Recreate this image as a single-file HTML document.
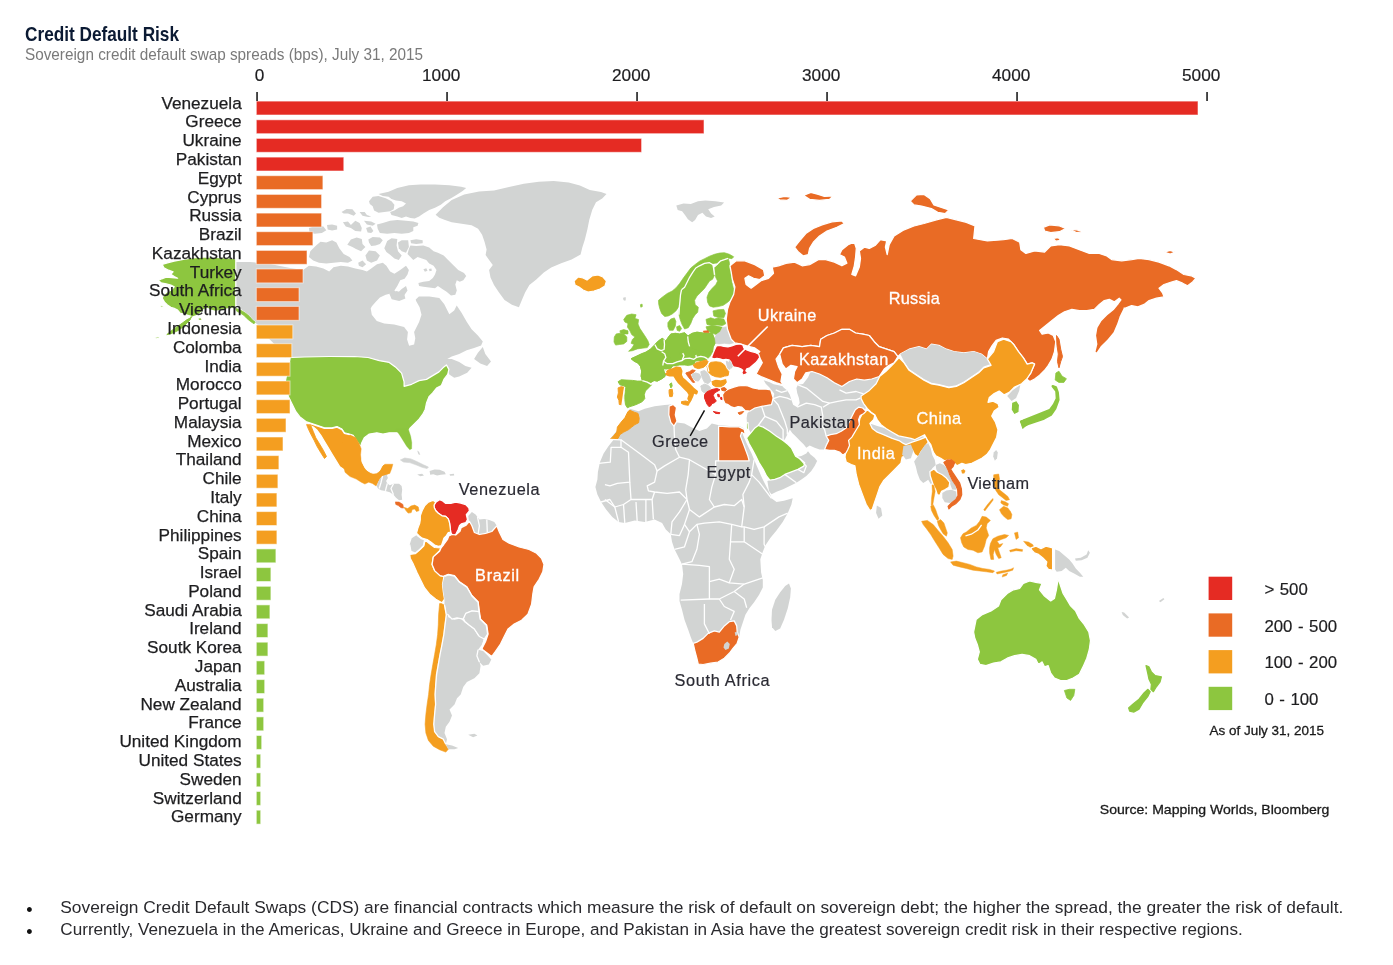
<!DOCTYPE html>
<html lang="en"><head><meta charset="utf-8"><title>Credit Default Risk</title>
<style>
html,body{margin:0;padding:0;background:#fff;}
body{width:1393px;height:965px;overflow:hidden;font-family:"Liberation Sans",sans-serif;}
svg{display:block;}
text{font-family:"Liberation Sans",sans-serif;}
.lbl{font-size:17.2px;fill:#1d1d1f;text-anchor:end;stroke:#1d1d1f;stroke-width:0.25px;}
.ax{font-size:17.2px;fill:#1d1d1f;text-anchor:middle;stroke:#1d1d1f;stroke-width:0.2px;}
.lg{font-size:16.8px;fill:#1d1d1f;word-spacing:0.9px;stroke:#1d1d1f;stroke-width:0.2px;}
.ml{font-size:16.3px;fill:#2a2a33;stroke:#2a2a33;stroke-width:0.2px;}
.mlw{font-size:16.3px;fill:#fff;stroke:#fff;stroke-width:0.3px;}
</style></head><body>
<svg width="1393" height="965" viewBox="0 0 1393 965">
<rect width="1393" height="965" fill="#fff"/>

<g id="map" stroke="#fff" stroke-width="1.25" stroke-linejoin="round">
<path d="M236.0,262.0 250.0,262.0 270.0,264.0 290.0,268.0 303.1,270.1 308.9,265.7 316.1,266.4 323.4,268.6 329.2,271.5 333.5,267.2 340.8,265.7 348.0,266.4 355.3,268.6 362.5,270.1 366.9,271.5 371.2,268.6 377.0,264.3 382.8,262.8 386.4,265.7 390.1,271.5 394.4,273.7 400.2,270.1 406.0,265.7 408.9,270.1 407.5,274.4 404.6,278.8 400.2,280.2 397.3,286.0 394.4,290.4 397.3,293.3 401.7,288.9 406.0,286.0 407.5,290.4 404.6,294.7 401.7,297.6 398.8,296.2 391.5,293.3 385.7,294.7 379.9,297.6 375.6,302.0 371.9,306.3 369.8,310.0 370.5,307.2 371.8,314.7 376.8,320.9 384.2,323.4 394.2,324.6 404.1,327.1 407.9,332.1 407.1,339.6 409.1,345.8 414.1,344.5 415.3,338.3 414.1,332.1 416.6,327.1 419.1,322.1 421.5,314.7 419.6,307.2 416.1,301.0 415.7,299.4 418.9,296.4 429.4,296.4 439.3,298.1 444.3,304.3 446.8,309.3 449.3,314.3 454.2,310.5 456.7,305.6 461.7,313.0 466.7,321.7 471.6,329.2 477.9,335.4 482.8,341.6 481.1,345.4 474.1,347.9 466.7,350.3 459.2,354.1 451.7,356.6 447.3,359.1 451.7,359.1 459.2,362.0 465.4,366.0 471.6,367.8 467.2,372.7 459.2,376.5 454.2,377.7 449.3,374.5 446.4,364.9 443.9,366.9 439.0,371.9 432.7,375.6 426.5,379.4 419.1,380.6 411.6,384.3 404.1,386.3 404.1,381.8 401.6,373.1 395.4,366.9 389.2,362.4 379.3,360.7 368.1,357.5 354.4,356.5 329.5,356.5 304.6,357.0 290.2,357.5 287.2,355.7 279.8,349.5 272.3,342.0 264.8,334.6 257.4,324.6 244.9,312.2 236.0,304.7Z" fill="#D2D4D3" stroke="none"/>
<path d="M869.9,423.5 877.3,426.0 886.0,428.5 892.2,430.9 899.7,434.2 907.2,435.9 914.6,437.7 922.1,435.9 927.1,438.4 928.3,443.4 922.1,444.6 914.6,444.6 907.2,444.6 899.7,443.4 892.2,440.9 883.5,437.2 877.3,434.2 871.1,429.7Z" fill="#D2D4D3" stroke="none"/>
<path d="M747.5,413.0 750.0,411.0 754.9,408.0 761.6,406.4 771.5,404.7 772.8,398.9 775.7,389.8 779.0,385.7 783.1,387.3 787.3,390.6 789.8,394.8 791.4,399.8 793.1,404.7 797.2,407.2 799.7,403.1 798.9,398.1 797.2,393.1 796.4,388.1 798.0,384.8 803.0,384.0 808.0,377.4 811.3,369.9 816.3,368.2 822.9,371.6 829.6,376.5 834.5,380.7 839.5,381.5 842.8,379.0 849.5,379.0 856.1,377.4 862.7,379.0 869.4,376.5 874.3,374.9 885.9,376.5 882.6,387.3 877.6,390.6 872.7,393.9 870.2,398.1 867.7,403.1 866.0,407.2 863.5,413.8 860.2,415.5 858.6,419.7 859.4,424.6 856.9,428.8 854.4,432.9 846.1,427.9 841.2,431.3 836.2,433.7 830.4,434.6 826.2,436.2 828.7,440.4 826.2,445.4 824.6,449.5 819.6,449.5 814.6,447.8 809.7,445.4 806.3,447.8 803.8,444.5 799.7,440.4 795.6,436.2 792.2,432.9 789.8,429.6 787.3,434.6 784.8,439.6 783.1,440.4 776.5,436.2 769.9,431.3 763.2,427.1 758.2,425.5 754.9,427.9 750.8,432.9 748.3,427.9 747.0,423.0 746.6,418.0Z" fill="#D2D4D3" stroke="none"/>
<path d="M629.8,408.7 638.5,411.2 644.7,408.7 654.6,406.2 664.6,405.0 670.8,404.5 675.8,407.5 674.5,414.9 677.0,422.4 684.5,423.6 691.9,427.4 699.4,431.1 706.9,428.6 711.8,423.6 718.1,424.9 729.3,426.1 739.2,426.1 744.2,428.6 742.9,434.8 746.7,443.5 751.6,453.5 754.1,459.7 757.9,468.4 761.6,477.1 765.3,484.6 769.1,492.0 771.5,498.3 776.5,502.0 784.0,500.7 792.7,498.3 791.4,504.5 787.7,513.2 782.7,521.9 776.5,530.6 770.3,538.1 765.3,545.5 762.8,551.7 760.3,559.2 761.1,572.4 762.8,579.9 762.8,587.4 759.1,594.8 754.1,602.3 749.2,608.5 745.4,614.7 742.9,622.2 740.4,629.7 739.2,637.1 737.2,643.3 733.0,648.3 729.3,653.3 724.3,658.3 718.1,662.0 710.6,663.2 703.1,664.5 698.2,664.0 696.9,658.3 694.9,650.8 693.2,643.3 690.7,637.1 688.2,629.7 684.5,619.7 682.0,609.8 679.5,601.0 679.5,594.0 682.0,584.1 683.2,574.1 682.0,564.2 678.3,556.7 674.5,549.3 672.0,541.8 670.8,534.3 665.8,529.4 662.1,523.1 654.6,519.4 644.7,521.9 634.7,520.6 624.8,523.1 618.6,521.9 612.3,516.9 606.1,509.5 601.1,502.0 597.4,494.5 595.4,487.1 597.4,479.6 597.9,472.1 599.9,462.2 603.6,453.5 608.6,446.0 613.6,439.8 609.9,439.3 617.3,429.9 622.3,422.4 627.3,414.9Z" fill="#D2D4D3" stroke="none"/>
<path d="M435.6,214.8 443.0,207.3 451.7,199.9 464.2,194.4 479.1,191.4 494.0,190.4 509.0,186.9 523.9,183.7 538.8,181.7 553.7,180.9 568.7,182.4 579.9,185.4 589.8,189.9 601.0,191.9 606.5,193.9 602.2,198.6 596.0,202.3 592.3,209.8 589.3,219.8 587.3,229.7 584.8,239.7 582.3,247.6 580.6,254.6 571.6,259.6 561.2,263.3 551.2,267.5 543.8,272.5 536.3,279.5 529.4,284.9 525.1,292.4 521.9,299.9 518.9,307.3 511.9,304.8 504.5,299.9 499.0,292.4 494.0,284.9 490.5,277.5 489.1,270.0 492.8,265.0 489.1,260.0 485.6,255.1 486.6,249.6 484.6,242.1 482.1,234.7 478.1,228.7 471.6,225.2 461.7,223.7 451.7,222.2 444.3,219.8 439.3,217.8Z" fill="#D2D4D3" stroke="none"/>
<path d="M574.0,281.0 578.0,277.0 583.0,278.0 587.0,280.0 592.0,276.0 598.0,275.0 603.0,277.0 606.5,281.0 605.0,286.0 600.0,289.0 594.0,291.0 588.0,292.0 583.0,290.0 579.0,287.0 575.0,285.0Z" fill="#F49E20"/>
<path d="M378.5,193.9 388.6,191.8 397.3,188.1 408.9,185.2 420.5,184.5 435.0,184.5 449.5,185.2 461.1,186.7 466.2,188.1 462.6,191.0 456.8,194.7 451.0,198.3 445.2,201.2 440.8,204.8 435.0,207.7 429.2,209.9 423.4,213.5 419.1,216.4 414.7,218.6 410.4,217.9 406.0,216.4 401.7,217.9 397.3,216.4 391.5,215.0 390.1,212.1 394.4,210.6 398.8,207.7 403.1,206.3 406.0,203.4 401.7,201.2 395.9,200.5 391.5,199.0 388.6,196.8 382.8,196.1Z" fill="#D2D4D3" stroke="none"/>
<path d="M369.0,201.2 372.7,196.8 378.5,196.1 385.7,198.3 391.5,201.2 394.4,204.8 393.7,209.2 390.1,211.3 384.3,212.1 378.5,212.8 374.1,210.6 372.7,206.3 369.8,204.1Z" fill="#D2D4D3" stroke="none"/>
<path d="M377.0,224.4 382.8,222.9 390.1,220.8 397.3,220.0 406.0,220.8 413.3,221.5 418.4,222.9 417.6,225.8 413.3,227.3 413.3,230.9 408.9,233.1 401.7,233.8 394.4,233.1 387.2,233.8 379.9,233.1 377.7,228.7Z" fill="#D2D4D3" stroke="none"/>
<path d="M341.5,212.1 346.6,208.9 352.4,209.2 356.0,213.5 353.8,215.7 348.0,213.5 343.7,213.5Z" fill="#D2D4D3" stroke="none"/>
<path d="M359.6,212.1 364.7,212.1 366.9,215.0 371.2,216.4 368.3,217.1 362.5,215.7Z" fill="#D2D4D3" stroke="none"/>
<path d="M342.9,222.2 348.0,221.5 350.9,225.1 355.3,220.8 359.6,222.9 361.8,228.0 361.1,231.6 355.3,230.9 350.9,228.0 345.8,226.6Z" fill="#D2D4D3" stroke="none"/>
<path d="M364.0,220.8 371.2,221.5 375.6,223.7 372.7,225.8 366.9,224.4Z" fill="#D2D4D3" stroke="none"/>
<path d="M366.1,228.0 370.5,226.6 373.4,230.9 371.2,233.1 367.6,232.4Z" fill="#D2D4D3" stroke="none"/>
<path d="M327.0,225.1 332.1,224.4 337.1,225.8 337.1,229.5 332.1,230.6 327.7,229.5Z" fill="#D2D4D3" stroke="none"/>
<path d="M308.9,228.0 316.1,225.8 323.4,226.6 326.3,230.2 321.9,233.1 314.7,233.8 309.6,232.4Z" fill="#D2D4D3" stroke="none"/>
<path d="M310.3,251.2 316.1,245.4 320.5,241.8 326.3,242.5 332.1,240.3 336.4,242.5 339.3,248.3 343.7,254.1 349.5,257.0 352.4,260.6 348.0,262.8 340.8,262.1 333.5,262.8 326.3,263.5 319.0,262.8 313.2,260.6 308.9,257.0Z" fill="#D2D4D3" stroke="none"/>
<path d="M347.3,244.7 350.9,239.6 356.7,237.4 361.8,238.9 362.5,244.0 365.4,246.9 361.1,251.2 356.0,249.0 352.4,246.9Z" fill="#D2D4D3" stroke="none"/>
<path d="M368.3,239.6 372.7,237.0 379.9,237.4 382.8,240.3 379.9,244.0 375.6,245.4 371.2,246.1 369.0,242.5Z" fill="#D2D4D3" stroke="none"/>
<path d="M365.4,255.6 369.0,250.5 375.6,251.2 379.9,255.6 377.0,260.6 371.2,262.8 366.9,260.6Z" fill="#D2D4D3" stroke="none"/>
<path d="M358.2,262.8 362.5,260.6 366.1,264.3 362.5,267.2 358.9,265.7Z" fill="#D2D4D3" stroke="none"/>
<path d="M384.3,248.3 387.2,241.1 391.5,238.2 397.3,238.9 396.6,245.4 398.0,251.2 401.7,255.6 398.8,259.9 394.4,258.5 390.1,254.8 386.4,251.9Z" fill="#D2D4D3" stroke="none"/>
<path d="M398.0,242.5 401.7,240.3 408.2,240.3 408.9,246.9 406.0,252.7 401.7,251.2 398.8,248.3Z" fill="#D2D4D3" stroke="none"/>
<path d="M410.4,240.3 416.2,239.3 422.7,240.3 422.7,243.2 416.2,244.0 411.1,243.2Z" fill="#D2D4D3" stroke="none"/>
<path d="M410.4,245.4 416.2,246.1 423.4,245.4 429.2,247.6 433.6,251.2 437.9,252.7 443.7,255.6 448.1,259.9 452.4,264.3 458.2,270.1 464.0,273.0 466.2,275.9 463.3,280.2 459.7,281.7 456.8,280.2 455.3,284.6 456.8,290.4 455.3,294.7 451.0,295.5 446.6,291.8 442.3,288.9 437.9,286.0 435.0,288.2 429.2,287.5 423.4,286.8 419.1,286.0 418.4,283.1 423.4,281.7 429.2,280.9 432.9,278.0 435.0,274.4 436.5,270.1 433.6,265.7 429.2,263.5 426.3,259.9 422.0,258.5 417.6,257.0 413.3,259.9 410.4,257.0 407.5,254.1 408.9,249.0Z" fill="#D2D4D3" stroke="none"/>
<path d="M423.4,269.3 426.3,268.3 427.5,270.8 424.9,271.8Z" fill="#D2D4D3" stroke="none"/>
<path d="M428.9,268.9 431.4,268.6 431.8,270.8 429.5,271.2Z" fill="#D2D4D3" stroke="none"/>
<path d="M474.1,359.1 477.9,352.8 482.8,347.1 485.3,354.1 491.0,361.5 487.1,366.0 480.3,363.5Z" fill="#D2D4D3" stroke="none"/>
<path d="M271.0,345.8 276.0,348.3 282.2,353.2 286.0,357.5 281.0,356.5 274.8,352.0Z" fill="#D2D4D3" stroke="none"/>
<path d="M389.2,293.5 396.7,291.0 404.1,293.5 405.4,298.5 399.2,301.0 391.7,299.3Z" fill="#D2D4D3" stroke="none"/>
<path d="M290.2,357.5 304.6,357.0 329.5,356.5 354.4,356.5 368.1,357.5 379.3,360.7 389.2,362.4 395.4,366.9 401.6,373.1 404.1,381.8 404.1,386.3 411.6,384.3 419.1,380.6 426.5,379.4 432.7,375.6 439.0,371.9 443.9,366.9 446.4,364.9 448.9,369.4 447.7,374.4 443.9,379.4 441.4,385.6 436.5,388.1 432.7,393.0 429.0,396.8 426.5,403.0 425.3,409.2 422.8,414.2 419.1,419.2 414.1,424.1 410.3,427.9 407.9,431.6 409.1,436.6 411.1,442.8 411.8,449.0 409.6,450.2 406.6,445.3 404.1,439.1 401.6,434.1 396.7,432.8 389.2,432.8 383.0,434.1 376.8,432.8 369.3,434.1 364.3,437.8 361.8,442.8 360.6,446.5 356.9,441.5 353.1,435.3 349.4,434.1 344.4,432.8 341.9,429.1 337.0,426.6 332.0,427.9 324.5,427.9 317.1,425.4 309.6,422.9 305.9,421.6 299.7,416.7 295.9,411.7 292.2,404.2 288.5,396.8 286.0,389.3 285.2,381.8 286.7,374.4 288.5,366.9 289.7,360.7Z" fill="#8DC63F"/>
<path d="M235.8,258.8 228.9,258.0 219.8,257.7 210.7,257.1 201.6,257.1 192.5,258.0 183.3,259.4 174.2,261.1 167.4,262.8 162.2,264.5 163.9,267.9 168.5,270.2 173.1,271.9 170.8,274.2 174.2,276.5 177.6,278.2 171.9,277.6 166.2,277.1 161.7,278.8 158.2,280.5 161.1,282.8 166.2,283.9 170.8,285.0 174.2,286.8 170.8,290.2 166.2,292.5 163.4,295.3 162.2,298.2 164.5,302.1 167.4,305.0 170.8,307.3 174.2,308.4 177.6,310.1 179.9,313.0 183.3,314.1 187.9,315.3 191.3,316.4 190.2,319.8 186.8,323.2 183.3,326.7 178.8,330.1 174.2,332.4 169.6,334.1 166.8,334.6 170.8,331.2 176.5,327.2 182.2,323.2 186.8,319.8 191.3,317.5 195.9,315.8 199.3,314.1 202.1,311.8 203.9,309.6 207.3,308.4 210.7,310.1 215.3,311.3 219.8,310.7 224.4,309.6 230.1,308.4 235.8,308.4 239.2,309.6 242.6,311.3 246.0,313.5 249.5,316.4 252.3,319.8 255.2,322.1 254.0,323.8 250.6,321.5 247.2,318.7 243.8,315.3 240.3,313.0 236.9,311.3 235.8,310.7Z" fill="#8DC63F"/>
<path d="M197.0,318.7 200.4,317.5 202.7,319.2 199.9,321.0Z" fill="#8DC63F"/>
<path d="M191.3,316.4 190.2,319.8 186.8,323.2 183.3,326.7 178.8,330.1 174.2,332.4 169.6,334.1 166.8,334.6 170.8,331.2 176.5,327.2 182.2,323.2 186.8,319.8 191.3,317.5Z" fill="#8DC63F" stroke="#8DC63F" stroke-width="1.0"/>
<path d="M235.8,308.4 239.2,309.6 242.6,311.3 246.0,313.5 249.5,316.4 252.3,319.8 255.2,322.1 254.0,323.8 250.6,321.5 247.2,318.7 243.8,315.3 240.3,313.0 236.9,311.3Z" fill="#8DC63F" stroke="#8DC63F" stroke-width="0.8"/>
<path d="M160.0,306.1 162.8,305.6 163.4,307.3 160.5,307.8Z" fill="#8DC63F"/>
<path d="M154.8,337.5 159.4,336.4 160.0,337.8 155.4,339.0Z" fill="#8DC63F"/>
<path d="M305.9,424.1 309.6,423.4 317.1,425.9 324.5,428.4 332.0,428.4 337.0,427.1 341.9,429.6 344.4,433.3 349.4,434.6 353.1,435.8 356.9,442.0 360.6,447.0 360.6,454.0 361.8,461.4 365.6,468.9 370.5,472.6 376.8,473.9 380.5,468.9 383.0,464.4 392.9,463.9 391.7,468.9 389.2,473.9 385.5,476.4 381.7,477.6 379.3,481.3 375.5,485.1 371.8,482.6 365.6,480.1 359.4,477.6 351.9,473.9 344.4,470.1 339.5,466.4 335.7,460.2 332.0,454.0 328.3,447.8 324.5,441.5 320.8,435.3 317.1,430.3 313.3,427.1Z" fill="#F49E20"/>
<path d="M306.6,424.6 310.8,425.4 313.3,431.6 315.8,437.8 319.6,444.0 323.3,450.2 326.5,456.5 324.5,458.5 320.8,452.7 317.1,446.5 314.1,440.3 310.8,434.1 308.4,429.1Z" fill="#F49E20" stroke="#F49E20" stroke-width="0.9"/>
<path d="M350.0,435.0 355.6,437.5 359.3,443.7 361.2,448.7 360.6,454.9 361.2,462.3 363.7,467.3 367.4,471.7 372.4,474.2 376.7,473.5 380.5,471.0 382.3,466.7 384.8,464.2 392.9,464.2 391.7,468.6 389.8,473.5 386.1,474.2 382.3,475.4 379.2,477.9 378.0,482.2 376.1,486.0 372.4,483.5 368.7,482.2 364.9,484.1 361.2,482.2 356.2,479.1 350.0,476.6 345.0,472.3 342.5,461.1 342.5,442.4Z" fill="#F49E20" stroke="#F49E20" stroke-width="0.4"/>
<path d="M378.0,482.2 379.9,478.5 383.0,475.8 386.7,474.5 387.9,477.9 386.1,481.0 387.3,483.5 389.8,485.3 393.5,483.7 399.1,483.7 401.6,486.0 402.2,489.7 401.6,494.7 402.2,499.7 399.1,500.3 396.0,497.8 393.5,494.7 389.8,492.2 385.4,490.9 381.1,490.3 378.0,488.5 376.7,486.2Z" fill="#D2D4D3" stroke="none"/>
<path d="M395.4,501.9 399.1,502.1 402.9,504.4 403.5,508.1 401.0,507.7 398.3,505.6 395.8,504.4Z" fill="#E96B25" stroke="#E96B25" stroke-width="0.6"/>
<path d="M404.1,507.4 407.8,508.6 410.9,506.1 414.7,505.1 418.2,506.9 419.0,510.6 416.5,511.5 414.7,508.9 412.2,509.4 411.2,512.6 408.2,513.1 406.0,510.6Z" fill="#F49E20" stroke="#F49E20" stroke-width="0.6"/>
<path d="M400.4,459.9 404.7,458.0 410.9,458.9 417.2,461.7 423.4,464.8 428.4,467.1 427.1,468.6 422.1,467.3 415.9,464.8 409.7,462.6 403.5,462.1Z" fill="#D2D4D3" stroke="#D2D4D3" stroke-width="0.6"/>
<path d="M396.0,429.4 408.5,429.4 410.7,436.2 411.8,442.4 411.7,448.7 409.7,449.7 406.6,446.2 403.5,441.2 400.4,436.2 397.9,432.5Z" fill="#8DC63F" stroke="#8DC63F" stroke-width="0.3"/>
<path d="M417.2,474.5 422.1,473.8 424.0,475.4 420.3,476.3Z" fill="#D2D4D3" stroke="none"/>
<path d="M429.6,471.0 434.6,469.6 439.6,469.8 444.5,471.7 445.8,474.2 440.8,474.8 437.1,475.4 433.3,474.2 430.2,474.8Z" fill="#D2D4D3" stroke="none"/>
<path d="M449.5,474.2 453.9,473.8 454.2,475.4 450.1,475.8Z" fill="#D2D4D3" stroke="none"/>
<path d="M417.2,450.5 419.0,451.8 420.3,454.9 418.4,454.3Z" fill="#D2D4D3" stroke="none"/>
<path d="M434.0,505.2 435.8,502.1 439.6,499.7 442.7,500.9 445.8,503.4 450.7,503.4 455.7,502.1 460.7,503.1 465.7,504.6 468.8,507.7 469.4,510.8 466.3,514.6 467.5,519.6 465.7,522.7 461.3,523.9 459.5,525.8 458.2,529.5 455.7,534.5 452.6,535.5 450.7,532.0 450.1,527.0 449.5,522.7 448.3,518.9 445.8,516.4 442.0,515.8 438.3,513.3 435.8,510.8 434.3,507.7Z" fill="#E52B23"/>
<path d="M420.3,515.8 422.1,510.8 424.6,505.9 428.4,502.1 432.7,500.3 435.8,501.9 434.0,505.2 434.3,507.7 435.8,510.8 438.3,513.3 442.0,515.8 445.8,516.4 448.3,518.9 449.5,522.7 450.1,527.0 450.7,532.0 448.3,532.6 446.4,535.7 443.9,538.2 442.7,541.9 441.4,545.7 438.3,546.3 434.6,545.0 430.8,541.9 427.1,539.5 422.1,538.2 419.0,535.7 416.5,533.2 417.8,528.3 419.7,523.3 420.3,519.6Z" fill="#F49E20"/>
<path d="M468.9,520.8 468.2,515.9 471.9,512.1 475.6,514.6 479.4,519.6 484.3,519.1 489.3,520.1 494.3,522.1 496.8,525.8 491.8,531.5 485.6,533.3 479.4,534.5 474.4,532.5 471.9,525.8 469.4,521.3Z" fill="#D2D4D3" stroke="none"/>
<path d="M411.7,538.3 416.7,535.0 420.9,538.3 424.6,540.0 423.4,545.7 419.7,549.5 415.2,553.2 410.9,551.4 409.7,544.5Z" fill="#D2D4D3" stroke="none"/>
<path d="M409.7,554.4 415.2,553.7 420.1,549.5 423.9,545.7 425.1,540.0 429.6,543.7 434.6,547.5 440.8,548.0 439.6,550.7 433.3,556.9 432.1,564.4 434.6,570.6 440.0,575.6 444.0,576.3 442.5,584.3 443.3,591.7 444.5,599.2 442.0,602.9 435.8,599.2 429.6,594.2 424.6,588.0 420.9,580.5 417.2,573.1 413.4,564.4 410.2,558.2Z" fill="#F49E20"/>
<path d="M455.7,535.0 460.0,531.3 461.2,527.6 466.2,525.1 469.4,521.3 471.9,525.8 474.4,532.5 479.4,534.5 485.6,533.3 491.8,531.5 496.8,525.8 499.3,532.0 503.0,539.5 509.2,543.2 519.2,547.0 529.1,549.5 536.6,553.2 541.5,558.2 544.0,564.4 542.8,571.8 539.1,579.3 534.1,586.8 532.8,594.2 531.6,604.2 527.9,614.1 521.6,620.3 514.2,624.1 508.0,629.1 504.2,636.5 500.5,644.0 495.5,651.4 491.8,656.4 486.8,652.7 481.8,649.0 485.6,641.5 488.1,634.0 486.8,625.3 480.6,619.1 479.4,611.6 478.1,601.7 471.9,595.5 466.9,586.8 459.5,581.8 454.5,575.6 448.3,574.3 443.3,576.3 440.0,575.6 434.6,570.6 432.1,564.4 433.3,556.9 439.6,551.2 441.3,547.5 443.8,544.5 447.5,539.5 448.8,535.8 452.0,534.5Z" fill="#E96B25"/>
<path d="M444.5,576.3 448.3,574.8 454.5,576.1 459.5,582.3 466.9,587.3 471.9,596.0 478.1,602.2 478.9,611.1 471.9,610.4 465.7,612.9 463.2,619.1 457.0,617.9 452.0,619.1 447.5,614.1 444.5,604.2 444.5,599.2 443.3,591.7 442.5,584.3Z" fill="#D2D4D3" stroke="none"/>
<path d="M465.7,613.4 471.9,610.9 478.9,611.6 480.1,619.1 486.3,625.3 487.6,634.0 484.3,639.0 479.4,636.5 474.4,629.1 469.4,625.3 464.9,621.6 463.7,619.1Z" fill="#D2D4D3" stroke="none"/>
<path d="M441.5,603.6 444.0,604.9 445.8,614.8 444.5,624.8 443.3,634.7 441.5,644.7 439.6,654.6 437.6,664.6 435.8,674.5 435.1,684.5 434.6,694.4 435.1,704.4 434.1,714.3 433.3,724.3 434.6,731.7 438.3,736.7 443.3,739.2 445.8,745.4 448.3,749.2 445.8,752.1 439.6,749.7 433.3,746.2 428.4,740.4 425.9,733.0 425.1,724.3 425.9,714.3 427.1,704.4 428.6,694.4 429.6,684.5 431.1,674.5 432.8,664.6 434.6,654.6 436.3,644.7 437.6,634.7 438.3,624.8 438.6,614.8 439.6,603.6Z" fill="#F49E20" stroke="#F49E20" stroke-width="0.6"/>
<path d="M445.8,604.9 448.3,617.3 454.5,619.8 460.7,618.6 464.4,622.3 469.4,626.0 474.4,629.8 478.1,636.0 484.3,638.5 481.8,644.7 478.1,649.7 476.9,655.9 479.4,662.1 480.6,665.8 479.4,673.3 474.4,678.3 466.9,682.0 463.2,687.0 460.7,694.4 457.0,698.2 454.5,704.4 449.5,709.4 452.0,715.6 449.5,721.8 445.8,726.8 444.5,733.0 447.0,739.2 445.8,744.2 443.3,739.2 438.3,736.7 434.6,731.7 433.8,724.3 434.6,714.3 435.6,704.4 435.1,694.4 435.8,684.5 436.6,674.5 438.3,664.6 440.0,654.6 442.0,644.7 443.8,634.7 445.0,624.8 446.3,614.8Z" fill="#D2D4D3" stroke="none"/>
<path d="M445.8,744.2 452.0,745.4 458.2,747.9 454.5,749.2 448.3,749.2Z" fill="#D2D4D3" stroke="none"/>
<path d="M468.2,734.7 474.4,733.7 477.4,735.5 473.1,737.2Z" fill="#D2D4D3" stroke="none"/>
<path d="M478.1,649.7 483.1,650.9 488.1,655.9 491.3,659.6 488.8,664.6 483.1,665.8 479.4,662.1 476.9,655.9Z" fill="#D2D4D3" stroke="none"/>
<path d="M631.1,358.7 636.1,356.3 641.1,353.8 646.0,352.0 649.8,349.5 654.8,344.5 658.5,340.8 662.2,338.3 665.9,340.8 668.4,337.0 670.9,333.9 675.3,333.3 679.6,333.9 684.6,332.7 688.1,335.8 692.1,333.3 697.0,332.1 703.3,333.1 708.9,333.3 712.0,332.7 714.5,338.9 715.1,343.3 713.2,347.0 712.6,352.0 710.1,356.3 707.6,358.8 703.3,360.7 698.9,360.7 695.2,361.3 694.8,363.8 692.7,364.7 688.3,365.6 684.6,365.1 679.6,365.1 675.9,365.9 672.8,365.9 670.9,368.4 667.2,368.9 665.0,369.4 665.9,373.1 664.7,376.8 661.0,379.3 657.2,381.2 654.1,380.6 651.0,382.4 647.3,381.8 642.3,380.6 641.1,376.2 641.7,371.2 640.4,366.3 638.0,363.2 634.2,361.3Z" fill="#8DC63F" stroke="#8DC63F" stroke-width="0.7"/>
<path d="M658.5,300.3 662.2,297.2 667.2,293.5 672.2,291.0 675.9,287.9 679.6,283.6 683.4,278.0 687.1,273.0 690.8,268.0 694.6,264.9 699.5,261.2 704.5,258.7 709.5,256.2 714.5,254.3 719.4,253.1 724.4,252.7 729.4,254.3 733.7,256.8 731.9,258.7 728.1,258.1 724.4,259.3 720.7,260.5 717.6,263.7 713.2,264.3 709.5,262.4 704.5,263.0 699.5,265.5 695.8,268.0 692.7,272.4 689.6,277.3 687.1,282.3 684.6,287.3 681.5,289.8 680.2,294.8 679.6,301.0 678.4,307.2 675.9,310.9 672.2,314.0 668.4,315.9 664.7,316.5 661.6,313.4 659.7,308.4 658.7,304.1Z" fill="#8DC63F" stroke="#8DC63F" stroke-width="0.7"/>
<path d="M681.5,289.8 684.6,287.3 687.1,282.3 689.6,277.3 692.7,272.4 695.8,268.0 699.5,265.9 704.5,263.4 709.5,262.8 713.0,264.7 713.8,269.9 714.5,274.9 712.6,279.2 709.5,281.1 707.0,284.8 704.5,288.5 700.8,292.3 697.0,296.0 694.6,300.3 695.2,304.7 698.3,307.2 697.7,312.2 695.2,314.7 692.7,318.4 690.8,323.4 688.3,327.7 684.6,329.0 682.1,324.6 680.2,319.6 679.0,314.7 679.6,307.2 680.2,301.0 680.6,294.8Z" fill="#8DC63F" stroke="#8DC63F" stroke-width="0.7"/>
<path d="M714.5,266.8 717.6,263.9 720.7,260.9 724.4,259.7 728.1,258.4 729.4,262.4 729.4,267.4 730.6,272.4 731.2,277.3 731.9,282.3 733.1,287.3 734.4,292.3 733.1,296.0 730.6,299.7 726.9,302.8 723.2,305.3 718.2,306.6 713.2,307.2 709.5,305.9 707.6,302.2 707.0,297.2 708.9,292.3 712.0,288.5 715.7,284.8 717.6,281.1 715.7,277.3 715.1,272.4Z" fill="#8DC63F" stroke="#8DC63F" stroke-width="0.7"/>
<path d="M713.0,310.9 718.2,309.7 723.8,309.4 725.4,313.4 723.8,317.8 718.2,317.4 713.8,316.1Z" fill="#8DC63F" stroke="#8DC63F" stroke-width="0.7"/>
<path d="M706.0,319.4 710.7,317.8 714.5,319.0 718.2,318.1 723.8,319.1 725.9,323.6 722.5,325.6 716.9,324.9 712.0,325.6 707.0,324.4Z" fill="#8DC63F" stroke="#8DC63F" stroke-width="0.7"/>
<path d="M706.0,326.8 712.0,325.6 716.9,326.1 722.2,327.3 720.7,332.3 716.9,334.8 712.0,333.1 707.6,331.1Z" fill="#8DC63F" stroke="#8DC63F" stroke-width="0.7"/>
<path d="M703.3,331.1 708.2,330.8 708.9,332.7 703.9,332.7Z" fill="#E96B25" stroke="#E96B25" stroke-width="0.7"/>
<path d="M716.3,334.6 720.0,332.1 722.5,327.7 727.5,326.5 731.2,328.3 734.4,330.8 735.6,335.2 740.0,337.7 738.7,341.4 734.4,342.6 729.4,343.9 724.4,343.3 719.4,343.9 715.1,343.3 714.5,338.9Z" fill="#D2D4D3" stroke="#D2D4D3" stroke-width="0.7"/>
<path d="M688.1,335.8 692.1,333.3 697.0,332.1 703.3,333.1 708.9,333.3 712.0,332.7 714.5,338.9 715.1,343.3 713.2,347.0 712.6,352.0 708.2,353.2 703.3,352.0 698.3,350.7 693.9,348.9 690.2,346.4 688.6,342.0Z" fill="#8DC63F" stroke="#8DC63F" stroke-width="0.7"/>
<path d="M664.1,344.5 665.9,340.8 668.4,337.0 670.9,333.9 675.3,333.3 679.6,333.9 684.6,332.7 687.7,336.4 688.3,342.0 689.6,346.4 685.8,348.9 682.1,350.7 679.6,353.2 680.9,356.9 682.1,360.7 677.1,361.3 672.2,360.7 669.7,356.9 665.9,354.5 664.5,349.5Z" fill="#8DC63F" stroke="#8DC63F" stroke-width="0.7"/>
<path d="M667.9,322.7 670.7,319.1 674.4,317.9 675.9,321.5 675.3,326.1 673.2,330.3 669.4,330.3 667.9,326.7Z" fill="#8DC63F" stroke="#8DC63F" stroke-width="0.7"/>
<path d="M676.6,326.8 679.6,325.6 681.6,328.6 679.6,331.3 677.1,330.3Z" fill="#8DC63F" stroke="#8DC63F" stroke-width="0.7"/>
<path d="M654.8,344.5 658.5,340.8 662.2,338.3 664.1,339.5 664.5,344.5 664.1,349.5 661.0,350.7 657.2,348.9 655.4,347.0Z" fill="#8DC63F" stroke="#8DC63F" stroke-width="0.7"/>
<path d="M623.7,319.6 626.8,315.3 631.7,314.0 636.1,314.7 634.9,318.4 638.6,319.6 638.0,324.0 639.8,328.3 642.3,332.1 644.8,335.8 647.9,340.8 649.2,344.5 647.3,347.6 642.3,348.2 637.3,348.9 632.4,350.7 628.6,351.3 631.7,348.2 634.2,344.5 631.1,343.3 632.4,339.5 634.9,337.0 631.7,334.6 629.9,330.8 627.4,327.1 628.0,323.4 624.9,322.1Z" fill="#8DC63F" stroke="#8DC63F" stroke-width="0.7"/>
<path d="M619.9,330.8 623.7,329.6 628.0,330.8 628.0,333.9 623.7,333.9 620.5,333.1Z" fill="#8DC63F" stroke="#8DC63F" stroke-width="0.7"/>
<path d="M614.3,337.0 616.2,333.9 619.9,333.3 623.7,333.9 626.8,337.0 626.8,341.4 623.7,343.9 619.3,344.5 615.6,345.1 614.0,342.0Z" fill="#8DC63F" stroke="#8DC63F" stroke-width="0.7"/>
<path d="M623.4,297.9 625.5,297.6 625.3,300.3 623.9,300.1Z" fill="#D2D4D3" stroke="#D2D4D3" stroke-width="0.7"/>
<path d="M640.4,304.7 642.1,304.1 642.3,306.6 640.8,307.2Z" fill="#8DC63F" stroke="#8DC63F" stroke-width="0.7"/>
<path d="M631.1,358.7 635.5,356.8 641.1,354.3 646.0,352.2 649.8,349.7 654.8,348.5 658.5,350.0 661.6,351.8 664.7,353.7 665.9,357.4 663.5,361.2 662.8,365.5 664.7,369.3 665.9,373.0 664.7,376.7 661.0,379.2 657.2,381.1 654.1,380.4 651.0,382.3 647.3,381.7 642.3,380.4 641.1,376.1 641.7,371.1 640.4,366.1 638.0,363.0 634.2,361.2Z" fill="#8DC63F" stroke="#8DC63F" stroke-width="1.0"/>
<path d="M669.7,384.2 671.5,382.9 672.2,386.0 670.9,387.9Z" fill="#8DC63F" stroke="#8DC63F" stroke-width="1.0"/>
<path d="M618.1,381.7 621.2,379.8 626.1,380.1 632.4,380.4 637.3,381.1 642.3,381.1 647.3,382.3 651.6,384.8 648.5,387.9 645.4,391.0 644.2,394.8 644.8,398.5 642.3,401.6 638.6,403.5 634.2,405.3 629.9,406.6 627.4,407.8 625.5,404.7 624.9,399.7 624.9,394.8 625.5,389.8 624.9,386.0 619.9,384.8Z" fill="#8DC63F" stroke="#8DC63F" stroke-width="1.0"/>
<path d="M618.1,387.9 621.2,386.7 624.3,387.3 623.7,391.6 623.0,396.0 622.4,400.3 621.8,404.7 619.3,404.5 618.9,400.3 617.4,397.2 618.4,392.9Z" fill="#F49E20" stroke="#F49E20" stroke-width="1.0"/>
<path d="M665.9,373.0 668.4,370.5 672.2,369.3 676.5,367.4 680.2,368.0 681.5,371.1 680.9,374.9 682.7,378.6 685.8,381.1 689.6,384.8 693.3,388.5 697.0,391.6 696.4,393.5 693.3,392.3 692.7,395.4 690.8,399.7 689.6,401.6 688.3,398.5 689.6,394.8 687.7,391.6 684.6,388.5 681.5,385.4 678.4,382.3 675.9,378.6 674.0,375.5 669.7,375.5 667.2,374.9Z" fill="#F49E20" stroke="#F49E20" stroke-width="2.0"/>
<path d="M681.5,401.6 685.8,401.0 689.6,402.2 688.3,405.3 684.6,404.7 681.5,403.5Z" fill="#F49E20" stroke="#F49E20" stroke-width="1.0"/>
<path d="M669.1,389.8 672.2,389.2 672.8,393.5 672.2,396.6 669.7,396.6 669.1,392.9Z" fill="#F49E20" stroke="#F49E20" stroke-width="1.0"/>
<path d="M665.9,365.5 669.7,364.3 672.8,365.5 670.9,368.0 667.2,368.6Z" fill="#8DC63F" stroke="#8DC63F" stroke-width="1.0"/>
<path d="M684.0,359.9 688.3,358.7 692.1,359.3 694.6,361.2 692.1,363.7 687.7,364.9 684.6,363.7Z" fill="#8DC63F" stroke="#8DC63F" stroke-width="1.0"/>
<path d="M682.7,353.1 685.8,350.6 690.8,350.0 694.6,351.8 695.8,355.0 692.1,356.2 687.1,356.8 684.0,355.6Z" fill="#8DC63F" stroke="#8DC63F" stroke-width="1.0"/>
<path d="M697.0,358.1 700.8,356.8 704.5,357.4 707.0,358.7 703.3,360.5 698.9,360.5Z" fill="#8DC63F" stroke="#8DC63F" stroke-width="1.0"/>
<path d="M693.3,364.9 697.0,362.4 702.0,361.2 706.4,359.9 708.2,361.8 706.4,364.9 703.3,367.4 698.3,368.6 694.6,367.4Z" fill="#F49E20" stroke="#F49E20" stroke-width="1.0"/>
<path d="M707.0,366.1 710.7,362.4 715.7,361.8 720.7,362.4 724.4,364.9 726.3,368.6 728.8,371.7 728.1,375.5 724.4,376.1 720.7,377.3 715.7,376.7 711.3,374.9 708.2,371.7Z" fill="#F49E20" stroke="#F49E20" stroke-width="1.0"/>
<path d="M712.0,381.1 715.7,379.8 720.7,380.4 725.6,379.2 726.3,382.3 724.4,384.8 720.7,386.7 715.7,386.7 712.6,384.8Z" fill="#F49E20" stroke="#F49E20" stroke-width="1.0"/>
<path d="M685.8,373.0 689.6,371.7 692.1,369.9 695.2,370.5 692.7,373.0 690.2,374.2 691.4,377.3 693.3,380.4 694.6,382.3 692.7,382.3 690.2,379.2 687.7,376.1Z" fill="#E96B25" stroke="#E96B25" stroke-width="1.0"/>
<path d="M692.1,374.2 695.8,373.0 699.5,374.2 700.8,377.3 698.3,381.1 695.2,380.4 692.7,377.3Z" fill="#D2D4D3" stroke="#D2D4D3" stroke-width="1.0"/>
<path d="M700.8,371.7 704.5,370.5 707.6,373.0 709.5,376.7 710.7,381.1 708.2,383.6 704.5,382.3 702.6,378.6 701.4,374.9Z" fill="#D2D4D3" stroke="#D2D4D3" stroke-width="1.0"/>
<path d="M700.8,386.0 704.5,384.2 708.2,385.4 710.7,387.9 708.2,390.4 704.5,392.9 702.0,391.0Z" fill="#D2D4D3" stroke="#D2D4D3" stroke-width="1.0"/>
<path d="M726.3,361.2 728.8,362.4 730.6,366.1 730.0,369.3 728.1,368.6 726.9,364.9Z" fill="#D2D4D3" stroke="#D2D4D3" stroke-width="1.0"/>
<path d="M704.5,394.8 706.4,392.3 709.5,390.4 713.2,389.2 716.9,388.5 720.0,389.8 716.9,391.6 714.5,392.9 713.2,395.4 714.5,398.5 716.3,401.0 714.5,402.8 712.0,403.5 710.7,405.9 708.9,406.6 707.0,404.1 705.7,401.0 704.5,397.9Z" fill="#E52B23" stroke="#E52B23" stroke-width="1.0"/>
<path d="M713.2,411.5 716.9,412.2 720.0,412.8 719.4,413.7 715.7,413.4Z" fill="#E52B23" stroke="#E52B23" stroke-width="1.0"/>
<path d="M717.6,394.1 719.2,394.5 719.4,397.0 717.9,396.6Z" fill="#E52B23" stroke="#E52B23" stroke-width="1.0"/>
<path d="M720.7,397.2 722.4,397.7 722.2,399.7 720.7,399.2Z" fill="#E52B23" stroke="#E52B23" stroke-width="1.0"/>
<path d="M610.6,438.9 613.7,435.8 616.8,432.1 617.4,427.1 621.2,422.1 624.9,417.8 628.0,411.5 629.9,410.3 634.2,412.2 638.0,413.4 639.2,418.4 638.6,422.7 634.9,424.6 631.7,427.1 628.6,429.6 623.7,432.1 619.9,434.6 618.1,438.3 615.0,439.5Z" fill="#F49E20" stroke="#F49E20" stroke-width="1.0"/>
<path d="M738.1,412.8 741.2,411.9 743.7,411.5 741.8,413.7 739.3,414.4Z" fill="#E96B25" stroke="#E96B25" stroke-width="1.0"/>
<path d="M730.0,265.8 736.2,260.8 744.9,260.8 754.8,264.6 763.5,269.6 764.8,275.8 759.8,279.5 753.6,278.3 748.6,275.8 744.9,278.3 746.1,284.5 751.1,288.2 756.1,284.5 761.0,280.7 768.5,278.3 773.5,273.3 772.2,267.1 778.5,265.8 785.9,263.3 794.6,262.1 802.1,265.8 809.6,264.6 818.3,259.6 825.7,259.6 834.4,262.1 841.9,265.8 846.9,263.3 844.4,257.1 839.4,254.6 841.9,249.7 848.1,244.7 854.3,242.2 856.3,248.4 855.6,257.1 854.3,265.8 851.8,274.5 855.6,275.8 859.3,267.1 860.5,258.4 859.3,250.9 864.3,247.2 869.3,248.4 875.5,245.2 880.4,239.7 886.7,240.9 885.4,247.2 887.2,254.6 889.2,244.7 894.1,236.0 904.1,229.8 914.0,226.0 924.0,223.5 936.4,219.8 946.4,217.3 956.3,219.8 966.3,222.3 975.0,226.0 974.2,233.5 973.7,238.5 987.4,240.9 1003.5,239.7 1012.2,238.5 1019.7,242.2 1020.9,249.7 1025.9,253.4 1034.6,250.9 1044.6,252.1 1050.8,245.9 1059.5,244.7 1069.5,245.9 1079.4,249.7 1089.4,253.4 1099.3,253.4 1106.8,255.9 1111.7,259.6 1121.7,260.8 1131.6,259.6 1139.1,258.4 1149.1,259.6 1159.0,262.1 1169.0,265.8 1176.4,269.6 1183.9,274.5 1191.3,275.8 1195.8,278.3 1192.6,282.0 1187.6,285.7 1182.6,283.2 1176.4,280.7 1171.4,282.0 1164.0,284.5 1159.0,288.2 1162.7,293.2 1164.0,296.9 1156.5,298.2 1149.1,300.6 1144.1,304.4 1137.9,306.9 1131.6,305.6 1125.4,308.1 1122.9,308.1 1119.2,315.6 1116.7,323.0 1113.0,331.7 1106.8,339.2 1100.5,345.4 1096.3,351.6 1098.1,344.2 1096.8,335.5 1098.1,328.0 1101.8,321.8 1108.0,315.6 1114.2,310.6 1119.2,304.4 1121.7,300.6 1119.2,298.2 1114.2,301.9 1109.3,299.4 1104.3,300.6 1099.3,304.4 1094.3,309.4 1086.9,310.6 1079.4,310.6 1071.9,309.4 1064.5,311.8 1058.3,315.6 1052.0,320.5 1045.8,325.5 1039.6,330.5 1042.1,334.2 1048.3,333.0 1053.3,335.5 1055.8,341.7 1054.5,351.6 1052.0,359.1 1048.3,365.3 1044.6,370.3 1039.6,375.3 1034.6,379.0 1029.7,381.5 1026.7,379.0 1030.9,372.8 1034.6,364.1 1032.1,362.8 1027.2,364.1 1023.4,357.9 1018.5,351.6 1013.5,344.2 1008.5,339.2 1002.3,338.0 996.1,340.4 992.3,345.4 988.6,351.6 987.4,359.1 981.2,354.1 973.7,351.6 963.8,352.9 953.8,351.6 946.4,349.2 938.9,345.4 931.4,344.2 926.5,349.2 919.0,346.7 909.1,349.2 900.3,354.1 897.9,356.6 894.1,351.6 886.7,349.2 879.2,346.7 874.2,341.7 869.3,335.5 863.0,334.2 855.6,333.0 849.4,329.3 841.9,329.3 834.4,333.0 827.0,335.5 820.7,339.2 819.5,346.7 810.8,345.4 802.1,346.7 792.1,345.4 783.4,347.9 779.7,354.1 776.0,359.1 778.5,366.6 782.2,374.0 780.9,381.5 783.4,385.2 776.0,382.7 767.3,379.0 761.0,376.5 756.1,374.0 758.6,369.1 762.3,362.8 759.8,357.9 757.3,354.1 759.8,351.6 754.8,347.9 747.4,346.2 741.1,344.2 734.9,342.9 731.2,339.2 727.5,329.3 726.2,319.3 727.5,309.4 730.0,301.9 733.7,294.4 734.9,287.0 732.4,279.5 731.2,272.0Z" fill="#E96B25"/>
<path d="M794.6,247.2 799.6,240.9 805.8,233.5 813.3,228.5 822.0,224.8 831.9,221.8 841.9,221.0 844.4,223.5 836.9,227.3 827.0,231.0 819.5,236.0 813.3,242.2 809.6,248.4 808.3,254.6 803.3,255.9 798.4,252.1Z" fill="#E96B25"/>
<path d="M910.3,201.1 916.5,194.9 924.0,194.4 930.2,198.7 933.9,204.9 941.4,207.4 948.9,209.9 945.1,213.6 937.7,212.3 931.4,208.6 921.5,206.1 914.0,204.9Z" fill="#E96B25"/>
<path d="M777.2,197.9 784.7,196.4 792.1,197.4 787.2,200.4 779.7,199.9Z" fill="#E96B25"/>
<path d="M803.3,195.4 810.8,192.4 818.3,194.4 824.5,196.4 833.2,195.9 829.5,199.4 819.5,200.4 809.6,199.4Z" fill="#E96B25"/>
<path d="M1043.3,227.3 1049.6,224.8 1059.5,226.0 1065.7,228.5 1059.5,231.7 1050.8,232.7 1044.6,231.0Z" fill="#E96B25"/>
<path d="M1069.5,229.3 1076.9,229.8 1083.1,231.7 1076.9,232.7Z" fill="#E96B25"/>
<path d="M1053.3,238.5 1058.3,237.7 1060.7,240.4 1055.8,241.2Z" fill="#E96B25"/>
<path d="M1164.0,252.1 1170.2,250.4 1175.2,252.1 1170.2,254.1Z" fill="#E96B25"/>
<path d="M1056.5,335.5 1059.0,339.2 1060.7,349.2 1062.5,356.6 1060.7,361.6 1059.0,367.8 1057.5,361.6 1058.3,354.1 1057.0,345.4Z" fill="#E96B25" stroke="#E96B25" stroke-width="1.0"/>
<path d="M1122.9,299.4 1119.2,304.4 1114.2,310.6 1108.0,315.6 1101.8,321.8 1098.1,328.0 1096.8,335.5 1098.1,344.2 1096.3,351.6 1100.5,345.4 1106.8,339.2 1113.0,331.7 1116.7,323.0 1119.2,315.6 1122.9,308.1Z" fill="#E96B25" stroke="#E96B25" stroke-width="1.4"/>
<path d="M779.7,354.1 783.4,347.9 792.1,345.4 802.1,346.7 810.8,345.4 819.5,346.7 820.7,339.2 827.0,335.5 834.4,333.0 841.9,329.3 849.4,329.3 855.6,333.0 863.0,334.2 869.3,335.5 874.2,341.7 879.2,346.7 886.7,349.2 894.1,351.6 897.9,356.6 894.1,362.8 889.2,365.3 884.2,369.1 879.2,376.5 871.7,379.0 864.3,380.2 856.8,379.0 849.4,381.5 841.9,386.5 834.4,382.7 827.0,377.8 819.5,374.0 812.0,371.5 805.8,372.8 802.1,379.0 797.1,382.7 793.4,379.0 794.6,371.5 797.1,366.6 790.9,365.3 785.9,369.1 782.2,364.1 780.9,359.1Z" fill="#E96B25"/>
<path d="M900.3,354.1 909.1,349.2 919.0,346.7 926.5,349.2 931.4,344.2 938.9,345.4 946.4,349.2 953.8,351.6 963.8,352.9 973.7,351.6 981.2,354.1 987.4,359.1 991.1,364.1 983.7,366.6 978.7,371.5 971.2,376.5 963.8,381.5 956.3,385.2 948.9,386.5 938.9,384.0 931.4,382.7 924.0,379.0 916.5,374.0 909.1,369.1 904.1,361.6Z" fill="#D2D4D3" stroke="none"/>
<path d="M861.1,396.1 868.6,391.1 876.1,383.7 879.8,376.2 886.0,371.2 893.5,363.8 899.0,357.6 904.1,362.8 909.1,370.3 916.5,375.3 924.0,380.2 931.4,383.9 938.9,385.2 948.9,387.7 956.3,386.4 963.8,382.7 971.2,377.7 978.7,372.7 983.7,367.8 991.1,365.3 987.4,359.1 993.6,351.6 997.4,341.6 1003.6,339.2 1011.0,341.6 1013.5,344.2 1018.5,351.6 1023.4,357.9 1027.2,364.1 1032.1,362.8 1034.6,364.1 1030.9,372.8 1026.7,379.0 1021.6,383.7 1014.1,387.4 1009.2,392.4 1004.2,394.9 999.2,391.1 994.2,393.6 989.3,397.4 988.0,402.3 993.0,401.1 998.0,403.6 999.2,407.3 994.2,411.0 991.7,416.0 995.5,422.2 998.0,429.7 996.7,437.2 993.0,444.6 990.5,449.6 986.8,454.6 981.8,458.3 976.8,460.8 971.8,463.3 965.6,464.5 961.9,463.3 956.9,465.8 954.4,463.3 949.5,459.6 944.5,460.8 940.7,458.3 935.8,455.8 933.3,452.1 930.8,444.6 927.1,439.7 924.6,434.7 919.6,437.2 914.6,439.7 910.9,438.4 904.7,437.2 898.5,435.9 892.2,432.2 886.0,428.5 881.0,424.7 877.3,419.8 874.8,414.8 871.1,412.3 867.4,408.6 863.6,403.6 861.1,398.6Z" fill="#F49E20"/>
<path d="M867.4,409.8 871.1,412.8 874.8,415.3 873.6,419.8 869.9,423.5 872.3,428.5 877.3,432.2 883.5,434.7 892.2,438.4 899.7,440.9 903.4,443.4 905.9,444.6 912.1,442.1 919.6,439.7 925.8,437.2 928.3,442.1 924.6,447.1 920.8,452.1 918.4,457.1 914.6,454.6 912.1,449.6 908.4,452.1 905.9,455.8 902.2,457.1 900.9,463.3 896.0,468.3 889.8,474.5 883.5,480.7 879.8,486.9 877.3,494.4 874.8,501.8 872.3,509.3 869.9,510.5 866.1,504.3 862.4,494.4 858.7,484.4 856.2,474.5 854.9,465.8 851.2,464.5 846.2,462.0 845.0,457.1 845.5,453.3 847.0,449.6 848.7,445.4 848.0,440.4 851.2,437.2 853.7,432.9 856.2,428.7 858.7,424.5 859.9,418.5 862.9,412.8Z" fill="#F49E20"/>
<path d="M876.8,505.6 881.0,508.1 882.3,515.5 878.6,518.8 876.1,513.0Z" fill="#D2D4D3" stroke="none"/>
<path d="M903.4,445.9 910.9,444.6 913.4,450.8 910.9,458.3 905.9,459.6 902.2,454.6Z" fill="#D2D4D3" stroke="none"/>
<path d="M914.1,461.6 918.2,455.8 921.6,450.0 924.9,445.0 928.2,443.3 930.7,448.3 932.3,454.9 934.8,459.9 935.7,464.9 932.3,468.2 929.9,472.3 930.7,478.1 932.3,483.1 930.7,483.9 928.2,479.8 925.7,481.5 923.2,483.1 919.9,479.8 917.4,473.2 915.8,466.5Z" fill="#D2D4D3" stroke="none"/>
<path d="M935.7,464.9 939.8,463.2 943.9,464.9 947.3,469.0 948.9,474.0 951.7,479.8 955.1,484.8 956.4,489.8 952.2,489.4 949.8,483.1 946.4,479.0 942.3,475.7 938.1,473.2 936.2,469.0Z" fill="#D2D4D3" stroke="none"/>
<path d="M929.9,471.5 934.0,469.0 937.3,472.3 942.3,474.8 946.4,478.1 949.8,482.3 948.9,487.3 944.8,489.8 941.5,491.4 939.8,495.6 937.3,494.7 935.7,489.8 933.2,484.8 931.5,479.8 930.2,475.7Z" fill="#F49E20"/>
<path d="M930.7,506.3 933.2,504.7 935.7,509.7 937.3,514.6 939.0,518.8 937.3,520.4 934.0,515.5 931.5,510.5Z" fill="#F49E20" stroke="#F49E20" stroke-width="0.5"/>
<path d="M932.0,484.8 934.0,485.6 935.2,491.4 934.0,498.0 932.8,504.7 931.2,505.5 931.5,498.0 932.3,491.4Z" fill="#F49E20" stroke="#F49E20" stroke-width="0.4"/>
<path d="M942.3,493.1 946.4,490.6 951.4,489.8 956.1,491.4 956.7,496.4 954.7,500.5 949.8,503.0 944.8,502.2 942.3,498.0Z" fill="#D2D4D3" stroke="none"/>
<path d="M943.9,462.4 947.3,459.9 951.4,459.9 954.7,462.4 953.1,466.5 950.6,469.0 953.1,473.2 956.4,478.1 959.7,483.1 961.4,488.9 961.7,494.7 959.7,499.7 955.6,503.8 951.4,506.3 948.9,508.8 948.1,506.3 951.4,503.0 955.6,499.7 958.0,495.6 957.7,489.8 955.6,484.8 952.2,479.8 949.8,474.8 948.1,469.9 946.4,466.5Z" fill="#E96B25" stroke="#E96B25" stroke-width="1.2"/>
<path d="M937.3,521.3 940.6,519.6 943.9,522.9 945.6,527.9 947.3,532.9 946.4,536.2 943.1,533.7 940.6,529.6 938.5,525.4Z" fill="#F49E20" stroke="#F49E20" stroke-width="0.5"/>
<path d="M921.6,521.3 927.4,520.4 933.2,524.6 938.1,530.4 943.1,536.2 948.1,542.8 952.2,549.5 953.1,556.1 952.2,559.4 948.1,558.6 943.1,554.4 939.0,547.8 934.8,541.2 930.7,534.5 926.5,528.7 923.2,524.6Z" fill="#F49E20" stroke="#F49E20" stroke-width="0.5"/>
<path d="M950.6,561.9 956.4,561.1 963.0,562.7 969.7,564.4 976.3,566.9 982.9,568.5 989.6,569.4 994.5,571.0 992.9,572.7 986.2,571.8 979.6,571.0 973.0,570.2 966.3,568.5 959.7,566.9 953.1,565.2Z" fill="#F49E20" stroke="#F49E20" stroke-width="0.5"/>
<path d="M996.2,572.3 1001.2,571.0 1006.1,570.2 1011.1,569.0 1013.6,567.7 1012.8,570.2 1007.8,571.8 1002.0,573.0 997.0,574.0Z" fill="#F49E20" stroke="#F49E20" stroke-width="0.4"/>
<path d="M1002.8,574.7 1007.8,573.0 1006.5,575.5 1002.2,577.1Z" fill="#F49E20" stroke="#F49E20" stroke-width="0.4"/>
<path d="M960.5,537.8 963.0,533.7 966.3,532.0 971.3,527.9 976.3,525.4 979.6,521.3 982.1,516.3 986.2,517.1 990.4,520.4 987.1,523.7 986.2,527.9 988.7,535.4 986.2,539.5 984.6,546.1 982.1,551.9 977.9,552.8 973.0,550.3 968.0,549.5 963.8,547.0 961.7,542.8Z" fill="#F49E20" stroke="#F49E20" stroke-width="0.5"/>
<path d="M990.4,543.6 992.9,538.7 997.8,536.2 1004.5,534.5 1008.6,535.4 1006.1,537.8 1001.2,539.5 997.0,541.2 999.5,544.5 1002.8,543.6 1000.3,547.0 997.8,547.8 999.5,552.8 1001.2,557.7 998.7,558.6 996.2,554.4 994.5,549.5 993.2,554.4 993.7,559.4 990.9,559.4 989.6,552.8 989.6,547.8Z" fill="#F49E20" stroke="#F49E20" stroke-width="0.5"/>
<path d="M993.7,474.8 998.7,474.0 999.5,479.0 997.8,484.8 999.5,489.8 1003.6,493.1 1007.8,496.4 1009.5,499.7 1006.1,500.5 1002.0,497.2 998.7,494.7 995.4,489.8 993.7,483.1Z" fill="#F49E20" stroke="#F49E20" stroke-width="0.5"/>
<path d="M999.5,509.7 1003.6,506.3 1007.8,508.0 1010.3,511.3 1011.9,514.6 1011.1,518.8 1007.8,519.6 1004.5,517.1 1001.5,513.8Z" fill="#F49E20" stroke="#F49E20" stroke-width="0.5"/>
<path d="M1001.2,500.5 1005.3,501.7 1008.6,503.8 1007.5,506.3 1003.6,505.0 1000.8,503.0Z" fill="#F49E20" stroke="#F49E20" stroke-width="0.4"/>
<path d="M983.7,509.7 987.1,505.0 990.9,500.5 992.9,498.4 993.2,500.0 990.4,503.8 987.1,508.0 984.9,511.0Z" fill="#F49E20" stroke="#F49E20" stroke-width="0.4"/>
<path d="M1014.4,532.9 1017.7,532.0 1018.6,537.8 1016.1,539.5Z" fill="#F49E20" stroke="#F49E20" stroke-width="0.4"/>
<path d="M1023.5,541.2 1028.5,542.0 1032.7,544.5 1034.3,547.8 1031.0,547.8 1026.9,545.3Z" fill="#F49E20" stroke="#F49E20" stroke-width="0.4"/>
<path d="M1009.5,550.3 1016.1,548.6 1022.7,549.5 1022.4,551.4 1016.1,550.8 1010.3,552.1Z" fill="#F49E20" stroke="#F49E20" stroke-width="0.3"/>
<path d="M1031.0,547.8 1036.0,546.1 1041.0,548.6 1045.9,546.1 1052.6,547.8 1052.6,570.2 1048.4,569.4 1045.9,566.0 1046.8,561.9 1042.6,557.7 1038.5,554.4 1034.3,552.8 1031.8,550.3Z" fill="#F49E20"/>
<path d="M1055.1,549.5 1059.2,551.1 1064.2,555.3 1069.2,559.4 1072.5,563.5 1075.8,568.5 1079.9,572.7 1083.3,576.8 1079.9,576.8 1074.1,573.5 1069.2,571.0 1065.8,567.7 1061.7,571.0 1056.7,571.8 1055.1,569.4Z" fill="#D2D4D3" stroke="none"/>
<path d="M1075.0,558.6 1080.8,557.7 1086.6,554.4 1088.2,550.3 1089.9,552.8 1087.4,557.7 1081.6,560.2 1075.8,560.7Z" fill="#D2D4D3" stroke="none"/>
<path d="M960.5,469.9 963.8,468.5 966.3,470.7 964.7,474.0 961.4,474.0Z" fill="#F49E20"/>
<path d="M993.7,452.4 996.2,450.0 997.8,452.4 997.0,458.2 994.9,460.7 993.2,456.6Z" fill="#D2D4D3" stroke="none"/>
<path d="M1007.2,396.1 1012.9,389.9 1020.3,384.9 1019.1,391.1 1016.1,397.9 1011.6,401.1Z" fill="#D2D4D3" stroke="none"/>
<path d="M1011.6,402.3 1016.6,400.3 1019.6,404.8 1019.1,412.3 1014.1,414.8 1011.1,409.8Z" fill="#8DC63F"/>
<path d="M1055.9,373.0 1058.9,371.2 1062.1,376.2 1066.4,378.7 1063.9,382.4 1058.9,382.4 1055.2,380.0Z" fill="#8DC63F" stroke="#8DC63F" stroke-width="0.8"/>
<path d="M1052.7,386.2 1056.4,391.1 1056.9,398.6 1053.9,404.8 1050.2,409.8 1044.0,412.3 1037.8,414.8 1031.5,417.3 1025.3,419.8 1021.6,422.2 1024.1,426.0 1029.1,423.5 1036.5,421.0 1044.0,418.5 1050.9,414.8 1055.2,408.6 1058.4,399.9 1057.7,392.4 1055.9,387.4Z" fill="#8DC63F" stroke="#8DC63F" stroke-width="2.4"/>
<path d="M1020.3,421.0 1024.1,419.8 1025.3,426.0 1022.8,428.5Z" fill="#8DC63F" stroke="#8DC63F" stroke-width="1.0"/>
<path d="M769.9,480.2 774.8,479.4 779.8,477.7 784.8,474.4 791.4,471.9 798.0,469.4 803.8,466.1 804.7,462.8 799.7,458.6 796.4,457.0 801.4,456.1 806.3,453.6 808.0,451.2 810.5,454.5 814.6,457.8 817.1,461.1 814.6,466.1 811.3,471.1 806.3,476.0 801.4,479.4 796.4,482.7 789.8,486.0 783.1,489.3 776.5,491.8 771.5,494.3 769.0,491.0 768.2,486.0 767.4,481.0Z" fill="#D2D4D3" stroke="none"/>
<path d="M746.6,437.9 750.8,432.9 754.9,427.9 758.2,425.5 763.2,427.1 769.9,431.3 776.5,436.2 783.1,440.4 788.1,444.5 791.4,447.8 793.1,451.2 795.6,456.1 799.7,458.6 804.7,462.8 803.8,466.1 798.0,469.4 791.4,471.9 784.8,474.4 779.8,477.7 774.8,479.4 769.9,480.2 766.5,476.0 763.2,469.4 759.1,462.8 755.8,456.1 752.4,449.5 749.1,443.7Z" fill="#8DC63F"/>
<path d="M824.6,449.5 826.2,445.4 828.7,440.4 826.2,436.2 830.4,434.6 836.2,433.7 841.2,431.3 846.1,427.9 848.6,423.0 851.1,418.0 853.6,413.0 855.3,409.7 858.6,407.2 862.7,408.0 866.0,411.4 863.5,413.8 860.2,415.5 858.6,419.7 859.4,424.6 856.9,428.8 854.4,432.9 851.9,437.1 848.6,440.4 849.5,445.4 847.8,449.5 846.1,452.8 842.8,455.3 839.5,452.0 834.5,450.3 829.6,450.3Z" fill="#E96B25"/>
<path d="M722.5,394.8 724.4,391.6 728.1,389.2 733.1,387.3 738.1,386.0 743.1,385.4 748.0,386.0 753.0,387.9 758.2,389.0 764.9,389.0 770.7,389.8 773.2,398.1 771.5,404.7 761.6,406.4 754.9,408.0 750.0,411.0 745.0,410.5 741.8,407.2 738.1,406.6 734.4,407.8 730.6,406.6 728.1,404.7 725.0,403.5 723.2,399.7Z" fill="#E96B25"/>
<path d="M721.3,388.3 724.4,387.5 726.6,389.2 725.0,391.0 721.9,390.4Z" fill="#E96B25" stroke="#E96B25" stroke-width="1.0"/>
<path d="M746.3,423.0 748.0,422.6 748.3,427.9 747.5,432.1 746.3,427.9Z" fill="#8DC63F"/>
<path d="M711.4,357.8 712.9,353.8 714.9,348.9 716.4,345.9 719.9,345.4 723.9,346.4 727.9,346.9 731.8,345.9 735.8,344.4 739.8,343.9 742.8,344.9 743.8,347.9 746.8,349.9 750.7,351.3 754.7,352.3 758.7,354.3 759.7,357.3 757.7,360.3 755.7,362.8 752.7,365.3 749.8,367.8 746.8,368.8 745.8,370.7 747.8,372.7 745.8,374.2 743.3,375.2 741.8,372.7 742.8,370.2 740.8,368.8 738.3,367.8 735.8,367.3 733.3,366.8 731.8,364.3 730.8,361.8 728.9,359.8 725.9,359.3 722.9,359.8 719.9,358.8 716.9,358.3 713.9,358.8Z" fill="#E52B23"/>
<path d="M728.9,359.8 731.3,362.3 732.3,364.8 732.8,366.8 731.3,368.8 729.9,366.3 728.9,362.8Z" fill="#D2D4D3" stroke="none"/>
<path d="M763.7,380.2 769.7,382.2 773.6,384.2 778.6,385.2 782.6,386.2 784.6,389.7 787.6,393.6 789.6,397.6 785.6,398.6 779.6,397.6 775.6,395.6 772.6,391.6 771.1,389.7 769.7,387.7 765.7,383.7Z" fill="#D2D4D3" stroke="none"/>
<path d="M771.5,619.7 772.0,609.8 775.3,599.8 780.2,592.3 785.2,586.1 789.0,583.6 790.9,588.6 790.2,597.3 787.7,608.5 784.0,619.7 780.2,628.4 775.3,630.9 772.0,627.2Z" fill="#D2D4D3" stroke="none"/>
<path d="M669.1,406.2 673.3,404.5 676.5,407.5 675.3,414.9 677.0,421.1 674.0,426.1 670.8,422.4 668.8,414.9Z" fill="#E96B25"/>
<path d="M718.6,426.1 729.3,426.9 739.2,426.9 744.2,429.4 745.4,434.8 741.7,432.3 740.4,436.1 744.2,446.0 747.9,456.0 749.2,460.9 718.6,460.9Z" fill="#E96B25"/>
<path d="M693.2,643.3 696.9,642.1 703.1,638.4 708.1,633.4 714.3,630.9 719.3,632.1 724.3,625.9 729.3,621.7 734.2,620.9 736.7,625.9 737.2,632.1 739.2,637.1 737.2,643.3 733.0,648.3 729.3,653.3 724.3,658.3 718.1,662.0 710.6,663.2 703.1,664.5 698.2,664.0 696.9,658.3 694.9,650.8Z" fill="#E96B25"/>
<path d="M724.3,644.1 727.3,641.6 729.8,644.1 728.8,648.6 725.5,650.0 723.5,647.6Z" fill="#D2D4D3" stroke="none"/>
<path d="M734.7,632.6 737.2,631.6 737.7,635.1 735.5,636.1Z" fill="#D2D4D3" stroke="none"/>
<path d="M973.6,632.0 976.1,619.6 982.3,614.6 991.0,610.9 998.5,605.9 1000.9,599.7 1007.2,593.5 1013.4,589.8 1019.6,588.5 1023.3,583.5 1029.6,581.0 1035.8,582.3 1042.0,583.5 1039.5,589.8 1044.5,596.0 1050.7,600.9 1054.4,598.5 1056.4,589.8 1058.2,578.6 1060.6,586.0 1063.1,593.5 1066.9,599.7 1070.6,605.9 1075.6,610.9 1079.3,618.4 1084.3,624.6 1088.8,632.0 1090.5,640.7 1089.3,649.5 1086.8,658.2 1083.0,666.9 1079.3,674.3 1073.1,678.1 1066.9,680.5 1060.6,680.5 1054.4,678.1 1050.7,673.1 1048.2,665.6 1044.5,666.9 1042.0,661.9 1038.3,664.4 1035.8,659.4 1029.6,655.7 1022.1,654.4 1014.6,655.7 1007.2,658.2 1000.9,661.9 993.5,663.1 986.0,665.6 979.8,664.4 977.3,659.4 979.3,651.9 977.3,644.5 974.8,638.3Z" fill="#8DC63F"/>
<path d="M1064.4,690.5 1069.4,689.3 1074.8,689.3 1073.8,695.5 1070.6,700.4 1066.9,698.0Z" fill="#8DC63F" stroke="#8DC63F" stroke-width="0.8"/>
<path d="M1146.0,665.6 1149.0,666.9 1151.4,671.8 1155.2,675.6 1161.4,676.8 1160.1,681.8 1156.4,686.8 1153.4,691.7 1150.9,689.3 1151.4,684.3 1149.0,679.3 1147.7,673.1Z" fill="#8DC63F" stroke="#8DC63F" stroke-width="1.2"/>
<path d="M1128.6,707.9 1132.8,704.2 1139.0,699.2 1144.0,693.0 1147.7,689.3 1150.2,691.7 1147.7,696.7 1142.7,702.9 1139.0,709.2 1134.0,712.1 1129.6,711.1Z" fill="#8DC63F" stroke="#8DC63F" stroke-width="1.2"/>
<path d="M1121.6,612.1 1124.1,612.6 1129.1,617.6 1127.1,618.6 1122.8,615.1Z" fill="#D2D4D3" stroke="none"/>
<path d="M1158.9,600.9 1163.4,598.0 1164.4,599.2 1160.4,602.2Z" fill="#D2D4D3" stroke="none"/>
<path d="M676.3,205.5 683.5,203.4 690.8,204.1 698.0,201.2 705.3,200.5 715.4,201.2 724.1,202.6 721.2,205.5 714.0,207.0 708.2,209.2 711.1,213.5 714.7,216.4 711.1,217.9 706.0,216.4 702.4,212.8 698.0,215.0 695.1,220.0 692.2,222.2 687.9,219.3 685.0,215.0 682.1,211.3 677.7,209.9Z" fill="#D2D4D3" stroke="none"/>
<path d="M382.6,476.0 381.1,482.2 379.2,488.5" fill="none" stroke-width="1.3"/>
<path d="M387.3,483.5 385.4,490.9" fill="none" stroke-width="1.3"/>
<path d="M393.5,483.7 391.0,488.5 393.5,494.7" fill="none" stroke-width="1.3"/>
<path d="M477.4,516.6 479.4,525.8 478.1,534.0" fill="none" stroke-width="1.3"/>
<path d="M486.8,519.6 487.3,532.5" fill="none" stroke-width="1.3"/>
<path d="M478.1,649.7 476.9,655.9 479.4,662.1" fill="none" stroke-width="1.3"/>
<path d="M444.5,604.9 446.3,614.8 445.0,624.8 443.8,634.7 442.0,644.7 440.0,654.6 438.3,664.6 436.6,674.5 435.8,684.5 435.1,694.4 435.6,704.4 434.6,714.3 433.8,724.3 434.6,731.7 438.3,736.7 443.3,739.2 445.8,744.2" fill="none" stroke-width="1.3"/>
<path d="M447.5,614.1 452.0,619.1 457.0,617.9 463.2,619.1 465.7,613.4 471.9,610.9 478.9,611.6" fill="none" stroke-width="1.3"/>
<path d="M463.7,619.1 464.9,621.6 469.4,625.3 474.4,629.1 479.4,636.5 484.3,639.0" fill="none" stroke-width="1.3"/>
<path d="M444.5,576.3 448.3,574.8 454.5,576.1 459.5,582.3 466.9,587.3 471.9,596.0 478.1,602.2 478.9,611.1 480.1,619.1 486.3,625.3 487.6,634.0 484.3,639.0 481.8,649.0" fill="none" stroke-width="1.3"/>
<path d="M409.7,544.5 410.9,551.4 415.2,553.2 419.7,549.5 423.4,545.7 424.6,540.0 420.9,538.3 416.7,535.0" fill="none" stroke-width="1.3"/>
<path d="M642.3,380.7 647.3,382.1 651.6,384.6" fill="none" stroke-width="1.3"/>
<path d="M624.7,387.0 623.9,391.6 623.3,396.0 622.7,400.3 622.0,405.0" fill="none" stroke-width="1.3"/>
<path d="M687.7,336.4 688.3,342.0 689.6,346.4" fill="none" stroke-width="1.3"/>
<path d="M661.6,351.8 664.7,353.7 665.9,357.4 663.5,361.2 662.8,365.5" fill="none" stroke-width="1.3"/>
<path d="M708.9,362.4 707.6,366.1 708.9,371.7" fill="none" stroke-width="1.3"/>
<path d="M712.0,380.4 715.7,378.8 720.7,379.6 725.6,378.3" fill="none" stroke-width="1.3"/>
<path d="M681.5,289.8 680.5,294.8 680.0,301.0 679.4,307.2 678.9,314.7" fill="none" stroke-width="1.3"/>
<path d="M713.0,264.7 714.5,266.8 717.6,263.9" fill="none" stroke-width="1.3"/>
<path d="M965.5,535.9 971.3,534.2 977.9,530.0 981.6,524.9" fill="none" stroke-width="1.3"/>
<path d="M772.8,398.9 778.1,404.7 781.5,413.0 784.8,421.3 787.3,429.6 787.3,434.6" fill="none" stroke-width="1.3"/>
<path d="M797.2,407.2 806.3,403.1 814.6,404.7 821.3,407.2 822.9,416.3 821.3,424.6 824.6,429.6 826.2,436.2" fill="none" stroke-width="1.3"/>
<path d="M798.0,384.8 806.3,388.1 814.6,394.8 822.9,401.4 829.6,403.1" fill="none" stroke-width="1.3"/>
<path d="M822.9,407.2 829.6,403.1 837.8,401.4 846.1,399.8 856.1,399.8 860.2,398.1" fill="none" stroke-width="1.3"/>
<path d="M761.6,406.4 764.9,416.3 758.2,425.5" fill="none" stroke-width="1.3"/>
<path d="M764.9,416.3 776.5,421.3 783.1,429.6 783.1,440.4" fill="none" stroke-width="1.3"/>
<path d="M784.8,474.4 796.4,482.7" fill="none" stroke-width="1.3"/>
<path d="M799.7,458.6 806.3,466.1 803.8,472.7 798.0,469.4" fill="none" stroke-width="1.3"/>
<path d="M839.5,389.8 846.1,393.1 856.1,391.5 863.5,393.9" fill="none" stroke-width="1.3"/>
<path d="M772.8,398.9 779.8,396.4 787.3,398.1 791.4,399.8" fill="none" stroke-width="1.3"/>
<path d="M775.7,389.8 781.5,392.3 787.3,390.6" fill="none" stroke-width="1.3"/>
<path d="M609.9,439.3 621.0,439.8 621.0,447.3 611.1,447.3 610.3,462.2 598.7,463.4" fill="none" stroke-width="1.3"/>
<path d="M621.0,447.3 628.5,452.2 629.8,482.1 617.3,483.3 609.9,485.8 604.9,484.6" fill="none" stroke-width="1.3"/>
<path d="M621.0,439.8 639.7,453.5 654.6,464.7 657.1,470.9 664.6,465.9 679.5,457.2 675.8,449.8 674.5,437.3 674.0,426.1" fill="none" stroke-width="1.3"/>
<path d="M679.5,457.2 689.5,459.7 715.6,474.6" fill="none" stroke-width="1.3"/>
<path d="M718.6,460.9 715.6,460.9 715.6,474.6" fill="none" stroke-width="1.3"/>
<path d="M657.1,470.9 654.6,482.1 647.2,485.8 648.4,490.8 654.6,492.0 667.1,493.3 679.5,492.0 687.0,499.5" fill="none" stroke-width="1.3"/>
<path d="M689.5,459.7 688.2,474.6 685.7,489.6 687.0,499.5" fill="none" stroke-width="1.3"/>
<path d="M715.6,474.6 711.8,487.1 709.4,499.5 714.3,507.0 724.3,504.5 734.2,505.7 741.7,499.5 744.2,507.0" fill="none" stroke-width="1.3"/>
<path d="M754.1,459.7 751.6,474.6 759.1,482.1 771.5,498.3" fill="none" stroke-width="1.3"/>
<path d="M751.6,474.6 749.2,482.1 742.9,494.5 744.2,507.0" fill="none" stroke-width="1.3"/>
<path d="M623.5,504.5 624.8,523.1" fill="none" stroke-width="1.3"/>
<path d="M636.0,502.0 637.2,521.9" fill="none" stroke-width="1.3"/>
<path d="M645.9,499.5 645.9,521.9" fill="none" stroke-width="1.3"/>
<path d="M652.1,499.5 653.4,519.4" fill="none" stroke-width="1.3"/>
<path d="M629.8,482.1 631.0,499.5 623.5,504.5 614.8,507.0 604.9,499.5" fill="none" stroke-width="1.3"/>
<path d="M631.0,499.5 652.1,499.5 654.6,492.0" fill="none" stroke-width="1.3"/>
<path d="M687.0,499.5 679.5,511.9 672.0,521.9 670.8,534.3" fill="none" stroke-width="1.3"/>
<path d="M687.0,499.5 689.5,509.5 699.4,516.9 714.3,507.0" fill="none" stroke-width="1.3"/>
<path d="M689.5,509.5 684.5,524.4 689.5,531.8 696.9,524.4 704.4,523.1 719.3,521.9 731.7,524.4 741.7,526.9 744.2,507.0" fill="none" stroke-width="1.3"/>
<path d="M744.2,526.9 754.1,529.4 764.1,526.9 779.0,516.9 787.7,513.2" fill="none" stroke-width="1.3"/>
<path d="M764.1,526.9 764.1,544.3 766.6,549.3" fill="none" stroke-width="1.3"/>
<path d="M744.2,541.8 759.1,551.7 762.8,554.2" fill="none" stroke-width="1.3"/>
<path d="M731.7,524.4 730.5,541.8 744.2,541.8 744.2,526.9 741.7,526.9" fill="none" stroke-width="1.3"/>
<path d="M674.5,549.3 684.5,546.8 689.5,531.8" fill="none" stroke-width="1.3"/>
<path d="M682.0,564.2 691.9,561.7 696.9,549.3 699.4,534.3 696.9,524.4" fill="none" stroke-width="1.3"/>
<path d="M682.0,564.2 699.4,565.4 709.4,566.7 709.4,581.6 719.3,579.1 729.3,582.8" fill="none" stroke-width="1.3"/>
<path d="M730.5,541.8 729.3,559.2 734.2,569.2 729.3,582.8 744.2,584.1 762.8,577.9" fill="none" stroke-width="1.3"/>
<path d="M709.4,581.6 709.4,599.0 719.3,599.0" fill="none" stroke-width="1.3"/>
<path d="M680.7,600.2 709.4,599.0" fill="none" stroke-width="1.3"/>
<path d="M704.4,604.0 704.4,623.9 709.4,633.8" fill="none" stroke-width="1.3"/>
<path d="M719.3,599.0 724.3,606.5 734.2,611.4 730.5,620.1" fill="none" stroke-width="1.3"/>
<path d="M719.3,599.0 734.2,591.5 744.2,584.1" fill="none" stroke-width="1.3"/>
<path d="M734.2,591.5 744.2,599.0 746.7,607.7" fill="none" stroke-width="1.3"/>
<path d="M670.8,534.3 679.5,535.6 684.5,524.4" fill="none" stroke-width="1.3"/>
<path d="M601.1,502.0 609.9,499.5 614.8,507.0 618.6,521.9" fill="none" stroke-width="1.3"/>
<path d="M681.5,289.8 684.6,287.3 687.1,282.3 689.6,277.3 692.7,272.4 695.8,268.0 699.5,265.8 704.5,263.3 709.5,262.7 713.0,264.7 717.6,263.8 720.7,260.8 724.4,259.6 728.1,258.3" fill="none" stroke-width="1.3"/>
<path d="M713.0,264.7 713.8,269.9 714.5,274.9" fill="none" stroke-width="1.3"/>
<path d="M664.7,369.3 665.9,373.0" fill="none" stroke-width="1.3"/>
<path d="M663.5,361.2 667.2,363.7 672.8,363.7 677.1,361.8 682.1,360.5 684.0,355.6 682.7,353.1" fill="none" stroke-width="1.3"/>
<path d="M682.1,360.5 684.6,358.7 689.6,358.1 693.9,359.3 696.4,357.4 695.8,355.0" fill="none" stroke-width="1.3"/>
<path d="M696.4,357.4 700.8,356.4 704.5,357.1 707.6,358.9" fill="none" stroke-width="1.3"/>
<path d="M654.8,344.5 657.2,348.9 661.0,350.7 664.1,349.5 664.5,344.5 664.1,339.5" fill="none" stroke-width="1.3"/>
</g>
<g id="bars" stroke="#fff" stroke-opacity="0.55" stroke-width="1">
<rect x="256.3" y="101.1" width="941.7" height="13.9" fill="#E52B23"/>
<rect x="256.3" y="119.8" width="447.7" height="13.9" fill="#E52B23"/>
<rect x="256.3" y="138.4" width="385.3" height="13.9" fill="#E52B23"/>
<rect x="256.3" y="157.1" width="87.5" height="13.9" fill="#E52B23"/>
<rect x="256.3" y="175.7" width="66.6" height="13.9" fill="#E96B25"/>
<rect x="256.3" y="194.4" width="65.3" height="13.9" fill="#E96B25"/>
<rect x="256.3" y="213.1" width="65.3" height="13.9" fill="#E96B25"/>
<rect x="256.3" y="231.7" width="56.6" height="13.9" fill="#E96B25"/>
<rect x="256.3" y="250.4" width="50.7" height="13.9" fill="#E96B25"/>
<rect x="256.3" y="269.0" width="46.7" height="13.9" fill="#E96B25"/>
<rect x="256.3" y="287.7" width="42.7" height="13.9" fill="#E96B25"/>
<rect x="256.3" y="306.4" width="42.7" height="13.9" fill="#E96B25"/>
<rect x="256.3" y="325.0" width="36.5" height="13.9" fill="#F49E20"/>
<rect x="256.3" y="343.7" width="35.5" height="13.9" fill="#F49E20"/>
<rect x="256.3" y="362.3" width="33.7" height="13.9" fill="#F49E20"/>
<rect x="256.3" y="381.0" width="33.7" height="13.9" fill="#F49E20"/>
<rect x="256.3" y="399.7" width="33.7" height="13.9" fill="#F49E20"/>
<rect x="256.3" y="418.3" width="29.7" height="13.9" fill="#F49E20"/>
<rect x="256.3" y="437.0" width="26.7" height="13.9" fill="#F49E20"/>
<rect x="256.3" y="455.6" width="22.6" height="13.9" fill="#F49E20"/>
<rect x="256.3" y="474.3" width="21.6" height="13.9" fill="#F49E20"/>
<rect x="256.3" y="493.0" width="20.6" height="13.9" fill="#F49E20"/>
<rect x="256.3" y="511.6" width="20.6" height="13.9" fill="#F49E20"/>
<rect x="256.3" y="530.3" width="20.6" height="13.9" fill="#F49E20"/>
<rect x="256.3" y="548.9" width="19.6" height="13.9" fill="#8DC63F"/>
<rect x="256.3" y="567.6" width="14.6" height="13.9" fill="#8DC63F"/>
<rect x="256.3" y="586.3" width="14.6" height="13.9" fill="#8DC63F"/>
<rect x="256.3" y="604.9" width="13.6" height="13.9" fill="#8DC63F"/>
<rect x="256.3" y="623.6" width="11.6" height="13.9" fill="#8DC63F"/>
<rect x="256.3" y="642.2" width="11.6" height="13.9" fill="#8DC63F"/>
<rect x="256.3" y="660.9" width="8.4" height="13.9" fill="#8DC63F"/>
<rect x="256.3" y="679.6" width="8.4" height="13.9" fill="#8DC63F"/>
<rect x="256.3" y="698.2" width="7.4" height="13.9" fill="#8DC63F"/>
<rect x="256.3" y="716.9" width="7.4" height="13.9" fill="#8DC63F"/>
<rect x="256.3" y="735.5" width="5.4" height="13.9" fill="#8DC63F"/>
<rect x="256.3" y="754.2" width="4.4" height="13.9" fill="#8DC63F"/>
<rect x="256.3" y="772.9" width="4.4" height="13.9" fill="#8DC63F"/>
<rect x="256.3" y="791.5" width="4.4" height="13.9" fill="#8DC63F"/>
<rect x="256.3" y="810.2" width="4.4" height="13.9" fill="#8DC63F"/>
</g>
<g id="labels">
<text class="lbl" x="241.7" y="108.6">Venezuela</text>
<text class="lbl" x="241.7" y="127.4">Greece</text>
<text class="lbl" x="241.7" y="146.2">Ukraine</text>
<text class="lbl" x="241.7" y="164.9">Pakistan</text>
<text class="lbl" x="241.7" y="183.7">Egypt</text>
<text class="lbl" x="241.7" y="202.5">Cyprus</text>
<text class="lbl" x="241.7" y="221.3">Russia</text>
<text class="lbl" x="241.7" y="240.1">Brazil</text>
<text class="lbl" x="241.7" y="258.8">Kazakhstan</text>
<text class="lbl" x="241.7" y="277.6">Turkey</text>
<text class="lbl" x="241.7" y="296.4">South Africa</text>
<text class="lbl" x="241.7" y="315.2">Vietnam</text>
<text class="lbl" x="241.7" y="334.0">Indonesia</text>
<text class="lbl" x="241.7" y="352.7">Colomba</text>
<text class="lbl" x="241.7" y="371.5">India</text>
<text class="lbl" x="241.7" y="390.3">Morocco</text>
<text class="lbl" x="241.7" y="409.1">Portugal</text>
<text class="lbl" x="241.7" y="427.9">Malaysia</text>
<text class="lbl" x="241.7" y="446.6">Mexico</text>
<text class="lbl" x="241.7" y="465.4">Thailand</text>
<text class="lbl" x="241.7" y="484.2">Chile</text>
<text class="lbl" x="241.7" y="503.0">Italy</text>
<text class="lbl" x="241.7" y="521.8">China</text>
<text class="lbl" x="241.7" y="540.5">Philippines</text>
<text class="lbl" x="241.7" y="559.3">Spain</text>
<text class="lbl" x="241.7" y="578.1">Israel</text>
<text class="lbl" x="241.7" y="596.9">Poland</text>
<text class="lbl" x="241.7" y="615.7">Saudi Arabia</text>
<text class="lbl" x="241.7" y="634.4">Ireland</text>
<text class="lbl" x="241.7" y="653.2">Soutk Korea</text>
<text class="lbl" x="241.7" y="672.0">Japan</text>
<text class="lbl" x="241.7" y="690.8">Australia</text>
<text class="lbl" x="241.7" y="709.6">New Zealand</text>
<text class="lbl" x="241.7" y="728.3">France</text>
<text class="lbl" x="241.7" y="747.1">United Kingdom</text>
<text class="lbl" x="241.7" y="765.9">United States</text>
<text class="lbl" x="241.7" y="784.7">Sweden</text>
<text class="lbl" x="241.7" y="803.5">Switzerland</text>
<text class="lbl" x="241.7" y="822.2">Germany</text>
</g>
<g id="axis">
<rect x="256.3" y="92" width="1.5" height="9" fill="#111"/>
<text class="ax" x="259.5" y="81">0</text>
<rect x="446.3" y="92" width="1.5" height="9" fill="#111"/>
<text class="ax" x="441.2" y="81">1000</text>
<rect x="636.3" y="92" width="1.5" height="9" fill="#111"/>
<text class="ax" x="631.2" y="81">2000</text>
<rect x="826.3" y="92" width="1.5" height="9" fill="#111"/>
<text class="ax" x="821.2" y="81">3000</text>
<rect x="1016.3" y="92" width="1.5" height="9" fill="#111"/>
<text class="ax" x="1011.2" y="81">4000</text>
<rect x="1206.3" y="92" width="1.5" height="9" fill="#111"/>
<text class="ax" x="1201.2" y="81">5000</text>
</g>
<text x="25" y="41" font-size="20.6" font-weight="bold" fill="#0b1a33" textLength="154" lengthAdjust="spacingAndGlyphs">Credit Default Risk</text>
<text x="25" y="59.5" font-size="17" fill="#7a7a7a" textLength="398" lengthAdjust="spacingAndGlyphs">Sovereign credit default swap spreads (bps), July 31, 2015</text>
<rect x="1208.6" y="576.7" width="23.6" height="23.3" fill="#E52B23"/>
<text class="lg" x="1264.4" y="594.9">&gt; 500</text>
<rect x="1208.6" y="613.4" width="23.6" height="23.3" fill="#E96B25"/>
<text class="lg" x="1264.4" y="631.6">200 - 500</text>
<rect x="1208.6" y="650.1" width="23.6" height="23.3" fill="#F49E20"/>
<text class="lg" x="1264.4" y="668.3">100 - 200</text>
<rect x="1208.6" y="686.8" width="23.6" height="23.3" fill="#8DC63F"/>
<text class="lg" x="1264.4" y="705.0">0 - 100</text>
<text x="1209.5" y="735" font-size="13.6" fill="#1a1a1a" stroke="#1a1a1a" stroke-width="0.3" textLength="114.5" lengthAdjust="spacingAndGlyphs">As of July 31, 2015</text>
<text x="1099.8" y="814" font-size="13.6" fill="#1a1a1a" stroke="#1a1a1a" stroke-width="0.3" textLength="229.5" lengthAdjust="spacingAndGlyphs">Source: Mapping Worlds, Bloomberg</text>
<text class="ml" x="458.7" y="494.7" textLength="80.9" lengthAdjust="spacing">Venezuela</text>
<text class="mlw" x="475.1" y="581.0" textLength="44.1" lengthAdjust="spacing">Brazil</text>
<text class="mlw" x="888.7" y="303.9" textLength="51.0" lengthAdjust="spacing">Russia</text>
<text class="mlw" x="757.8" y="321.0" textLength="58.5" lengthAdjust="spacing">Ukraine</text>
<text class="mlw" x="798.9" y="364.6" textLength="89.3" lengthAdjust="spacing">Kazakhstan</text>
<text class="mlw" x="916.6" y="424.2" textLength="44.5" lengthAdjust="spacing">China</text>
<text class="mlw" x="856.9" y="459.0" textLength="37.8" lengthAdjust="spacing">India</text>
<text class="ml" x="967.4" y="488.9" textLength="61.6" lengthAdjust="spacing">Vietnam</text>
<text class="ml" x="789.4" y="428.3" textLength="65.9" lengthAdjust="spacing">Pakistan</text>
<text class="ml" x="652.1" y="446.5" textLength="56.0" lengthAdjust="spacing">Greece</text>
<text class="ml" x="706.4" y="477.6" textLength="44.0" lengthAdjust="spacing">Egypt</text>
<text class="ml" x="674.5" y="686.4" textLength="95.1" lengthAdjust="spacing">South Africa</text>
<path d="M767.7,326.5L737.8,356.3" stroke="#fff" stroke-width="1.6" fill="none"/>
<path d="M704.5,410.3L690.2,435.8" stroke="#111" stroke-width="1.4" fill="none"/>
<text x="29.3" y="915.7" font-size="18" fill="#111" text-anchor="middle">•</text><text x="29.3" y="937.8" font-size="18" fill="#111" text-anchor="middle">•</text>
<text x="60.3" y="912.8" font-size="17.2" fill="#2a2a2e" textLength="1283" lengthAdjust="spacingAndGlyphs">Sovereign Credit Default Swaps (CDS) are financial contracts which measure the risk of default on sovereign debt; the higher the spread, the greater the risk of default.</text>
<text x="60.3" y="934.7" font-size="17.2" fill="#2a2a2e" textLength="1182.4" lengthAdjust="spacingAndGlyphs">Currently, Venezuela in the Americas, Ukraine and Greece in Europe, and Pakistan in Asia have the greatest sovereign credit risk in their respective regions.</text>
</svg></body></html>
